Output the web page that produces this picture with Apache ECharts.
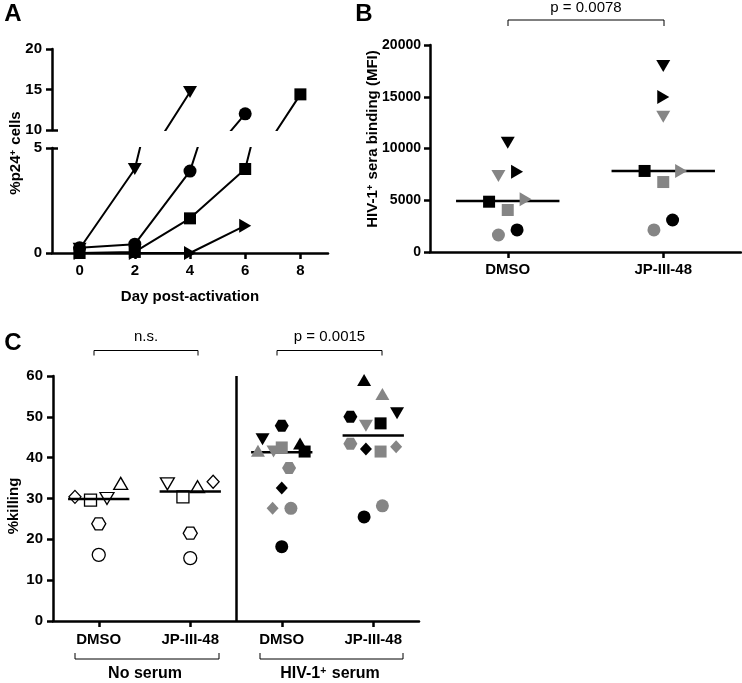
<!DOCTYPE html>
<html>
<head>
<meta charset="utf-8">
<script src="https://cdn.jsdelivr.net/npm/echarts@6/dist/echarts.min.js"></script>
<style>
  html, body { margin: 0; padding: 0; background: #fff; }
  #chart { width: 742px; height: 683px; }
</style>
</head>
<body>
<div id="chart"></div>
<script>
// ---- panel A: %p24+ cells over days ----
const days = [0, 2, 4, 6, 8];
const p24Down = [0.2, 4.0, 14.7];
const p24Circle = [0.25, 0.42, 3.9, 12.0];
const p24Square = [0, 0.05, 1.65, 4.0, 14.4];
const p24Right = [0, 0, 0, 1.3];
const aLowerTicks = [0, 5];
const aUpperTicks = [10, 15, 20];

// ---- panel B: sera binding (MFI) ----
const bGroups = ['DMSO', 'JP-III-48'];
const bShapes = ['down', 'right', 'down', 'square', 'right', 'square', 'circle', 'circle'];
const bTones = ['black', 'black', 'grey', 'black', 'grey', 'grey', 'black', 'grey'];
const bDmso = [10560, 7760, 7340, 4860, 5090, 4060, 2130, 1640];
const bJp = [17970, 14980, 13070, 7830, 7830, 6760, 3090, 2130];
const bDmsoJitter = [0, 0.12, -0.12, -0.24, 0.23, 0, 0.12, -0.12];
const bJpJitter = [0, 0, 0, -0.24, 0.23, 0, 0.12, -0.12];
const bMedians = [4930, 7830];
const bPValue = 'p = 0.0078';

// ---- panel C: %killing ----
const cGroups = ['DMSO', 'JP-III-48', 'DMSO', 'JP-III-48'];
const cSets = ['No serum', 'HIV-1⁺ serum'];

const cNoDmsoShapes = ['diamond', 'square', 'down', 'up', 'hexagon', 'circle'];
const cNoDmso = [30.4, 29.6, 30.0, 33.7, 23.8, 16.2];
const cNoDmsoJitter = [-0.26, -0.09, 0.09, 0.24, 0, 0];

const cNoJpShapes = ['down', 'square', 'up', 'diamond', 'hexagon', 'circle'];
const cNoJp = [33.6, 30.4, 32.9, 34.1, 21.5, 15.4];
const cNoJpJitter = [-0.25, -0.08, 0.08, 0.25, 0, 0];

const cHivDmsoShapes = ['hexagon', 'down', 'up', 'down', 'square', 'up', 'square', 'hexagon', 'diamond', 'diamond', 'circle', 'circle'];
const cHivDmsoTones = ['black', 'black', 'grey', 'grey', 'grey', 'black', 'black', 'grey', 'black', 'grey', 'grey', 'black'];
const cHivDmso = [47.8, 44.5, 41.7, 41.5, 42.5, 43.5, 41.5, 37.5, 32.6, 27.6, 27.6, 18.2];
const cHivDmsoJitter = [0, -0.21, -0.26, -0.09, 0, 0.2, 0.25, 0.08, 0, -0.1, 0.1, 0];

const cHivJpShapes = ['up', 'up', 'down', 'hexagon', 'down', 'square', 'hexagon', 'diamond', 'square', 'diamond', 'circle', 'circle'];
const cHivJpTones = ['black', 'grey', 'black', 'black', 'grey', 'black', 'grey', 'black', 'grey', 'grey', 'grey', 'black'];
const cHivJp = [59.0, 55.6, 50.9, 50.0, 47.8, 48.4, 43.4, 42.1, 41.5, 42.7, 28.2, 25.5];
const cHivJpJitter = [-0.1, 0.1, 0.26, -0.25, -0.08, 0.08, -0.25, -0.08, 0.08, 0.25, 0.1, -0.1];

const cMedians = [29.9, 31.7, 41.3, 45.4];
const cPValues = ['n.s.', 'p = 0.0015'];

// ---- styles ----
const FONT = "'Liberation Sans', Arial, Helvetica, sans-serif";
const GREY = '#858585';
const AXIS_W = 2.5;

const SYMBOLS = {
  circle: ['circle', 13],
  square: ['rect', 12],
  up: ['triangle', [14, 12]],
  down: ['path://M0,0L10,0L5,9Z', [14, 12]],
  right: ['path://M0,0L9,5L0,10Z', [12, 14]],
  diamond: ['diamond', [12, 13]],
  hexagon: ['path://M0,4.33L2.5,0L7.5,0L10,4.33L7.5,8.66L2.5,8.66Z', [14, 12]]
};

const chart = echarts.init(document.getElementById('chart'));

function axisBase(extra) {
  return Object.assign({
    type: 'value',
    axisLine: { show: true, onZero: false, lineStyle: { color: '#000', width: AXIS_W } },
    axisTick: { show: true, inside: false, length: 6, lineStyle: { color: '#000', width: AXIS_W } },
    axisLabel: { color: '#000', fontFamily: FONT, fontWeight: 'bold', fontSize: 15, margin: 10, formatter: v => String(v) },
    splitLine: { show: false }
  }, extra);
}

function dots(values, jitter, shapes, tones, center, open) {
  return values.map((v, i) => {
    const s = SYMBOLS[shapes[i]];
    return {
      value: [center + jitter[i], v],
      symbol: s[0],
      symbolSize: s[1],
      itemStyle: open
        ? { color: 'rgba(0,0,0,0)', borderColor: '#000', borderWidth: 1.3, opacity: 1 }
        : { color: tones[i] === 'grey' ? GREY : '#000', opacity: 1 }
    };
  });
}

function scatter(data, gridIdx) {
  return {
    type: 'scatter', xAxisIndex: gridIdx, yAxisIndex: gridIdx,
    data: data, z: 3, silent: true,
    itemStyle: { opacity: 1 }
  };
}

function median(center, halfWidth, value, gridIdx) {
  return {
    type: 'line', xAxisIndex: gridIdx, yAxisIndex: gridIdx,
    data: [[center - halfWidth, value], [center + halfWidth, value]],
    symbol: 'none', z: 2, silent: true,
    lineStyle: { color: '#000', width: 2.5 }
  };
}

// panel A lines in both halves of the broken axis
const aSets = [
  { vals: p24Down, shape: 'down', size: [14, 12] },
  { vals: p24Circle, shape: 'circle', size: 13 },
  { vals: p24Square, shape: 'square', size: 12 },
  { vals: p24Right, shape: 'right', size: [12, 14] }
];
const aSeries = [];
[0, 1].forEach(g => {
  aSets.forEach(set => {
    aSeries.push({
      type: 'line', xAxisIndex: g, yAxisIndex: g,
      data: set.vals.map((v, i) => [days[i], v]),
      symbol: SYMBOLS[set.shape][0], symbolSize: set.size,
      showAllSymbol: true, clip: true, silent: true,
      itemStyle: { color: '#000', opacity: 1 },
      lineStyle: { color: '#000', width: 2 }
    });
  });
});

const bCenters = [1, 3];
const cCenters = [0.5, 1.5, 2.5, 3.5];

const series = aSeries.concat([
  median(bCenters[0], 0.665, bMedians[0], 2),
  median(bCenters[1], 0.665, bMedians[1], 2),
  scatter(dots(bDmso, bDmsoJitter, bShapes, bTones, bCenters[0], false), 2),
  scatter(dots(bJp, bJpJitter, bShapes, bTones, bCenters[1], false), 2),

  median(cCenters[0], 0.335, cMedians[0], 3),
  median(cCenters[1], 0.335, cMedians[1], 3),
  median(cCenters[2], 0.335, cMedians[2], 3),
  median(cCenters[3], 0.335, cMedians[3], 3),
  scatter(dots(cNoDmso, cNoDmsoJitter, cNoDmsoShapes, null, cCenters[0], true), 3),
  scatter(dots(cNoJp, cNoJpJitter, cNoJpShapes, null, cCenters[1], true), 3),
  scatter(dots(cHivDmso, cHivDmsoJitter, cHivDmsoShapes, cHivDmsoTones, cCenters[2], false), 3),
  Object.assign(scatter(dots(cHivJp, cHivJpJitter, cHivJpShapes, cHivJpTones, cCenters[3], false), 3), {
    markLine: {
      silent: true, symbol: 'none', label: { show: false },
      lineStyle: { color: '#000', width: AXIS_W, type: 'solid' },
      data: [{ xAxis: 2 }]
    }
  })
]);

function txt(text, x, y, size, weight, rot) {
  return {
    type: 'text', x: x, y: y, rotation: rot || 0, z: 10,
    style: {
      text: text, fill: '#000', fontFamily: FONT, fontSize: size,
      fontWeight: weight, align: 'center', verticalAlign: 'middle'
    }
  };
}
function supTxt(before, after, x, y, size, rot) {
  return {
    type: 'text', x: x, y: y, rotation: rot || 0, z: 10,
    style: {
      text: '{b|' + before + '}{s|+}{b|' + after + '}',
      align: 'center', verticalAlign: 'middle',
      rich: {
        b: { fill: '#000', fontFamily: FONT, fontSize: size, fontWeight: 'bold' },
        s: { fill: '#000', fontFamily: FONT, fontSize: size * 0.65, fontWeight: 'bold', verticalAlign: 'top', padding: [0, 1, 0, 0] }
      }
    }
  };
}
function bracket(x1, x2, yLine, yEnd) {
  return {
    type: 'polyline', z: 10,
    shape: { points: [[x1, yEnd], [x1, yLine], [x2, yLine], [x2, yEnd]] },
    style: { stroke: '#000', lineWidth: 1, fill: null }
  };
}
function capLine(x1, x2, y) {
  return {
    type: 'line', z: 10,
    shape: { x1: x1, y1: y, x2: x2, y2: y },
    style: { stroke: '#000', lineWidth: AXIS_W }
  };
}

const graphics = [
  txt('A', 13, 14, 24, 'bold'),
  txt('B', 364, 14, 24, 'bold'),
  txt('C', 13, 343, 24, 'bold'),
  supTxt('%p24', ' cells', 16, 153, 15, Math.PI / 2),
  supTxt('HIV-1', ' sera binding (MFI)', 373, 139, 15, Math.PI / 2),
  txt('%killing', 14, 506, 15, 'bold', Math.PI / 2),
  capLine(52, 58, 130.5),
  capLine(52, 58, 148.5),
  bracket(508, 664, 20, 26),
  txt(bPValue, 586, 8, 15, 'normal'),
  bracket(94, 198, 350.5, 355.5),
  txt(cPValues[0], 146, 337, 15, 'normal'),
  bracket(277, 382, 350.5, 355.5),
  txt(cPValues[1], 329.5, 337, 15, 'normal'),
  bracket(75, 219, 659, 653),
  bracket(260, 403, 659, 653),
  txt(cSets[0], 145, 674, 16, 'bold'),
  supTxt('HIV-1', ' serum', 330, 674, 16, 0)
];

chart.setOption({
  animation: false,
  backgroundColor: '#fff',
  grid: [
    { left: 52, top: 49, width: 276, height: 81 },
    { left: 52, top: 148, width: 276, height: 105 },
    { left: 430, top: 45, width: 311, height: 207 },
    { left: 53, top: 376, width: 366, height: 245 }
  ],
  xAxis: [
    axisBase({ gridIndex: 0, min: -1, max: 9, show: false }),
    axisBase({
      gridIndex: 1, min: -1, max: 9, interval: 1,
      name: 'Day post-activation', nameLocation: 'middle', nameGap: 36,
      nameTextStyle: { color: '#000', fontFamily: FONT, fontWeight: 'bold', fontSize: 15 },
      axisTick: { show: true, length: 6, customValues: days, lineStyle: { color: '#000', width: AXIS_W } },
      axisLabel: { color: '#000', fontFamily: FONT, fontWeight: 'bold', fontSize: 15, margin: 10, customValues: days }
    }),
    axisBase({
      gridIndex: 2, min: 0, max: 4, interval: 1,
      axisTick: { show: true, length: 6, customValues: bCenters, lineStyle: { color: '#000', width: AXIS_W } },
      axisLabel: {
        color: '#000', fontFamily: FONT, fontWeight: 'bold', fontSize: 15, margin: 10,
        customValues: bCenters, formatter: v => bGroups[bCenters.indexOf(v)] || ''
      }
    }),
    axisBase({
      gridIndex: 3, min: 0, max: 4, interval: 1,
      axisTick: { show: true, length: 6, customValues: cCenters, lineStyle: { color: '#000', width: AXIS_W } },
      axisLabel: {
        color: '#000', fontFamily: FONT, fontWeight: 'bold', fontSize: 15, margin: 11,
        customValues: cCenters, formatter: v => cGroups[cCenters.indexOf(v)] || ''
      }
    })
  ],
  yAxis: [
    axisBase({ gridIndex: 0, min: aUpperTicks[0], max: aUpperTicks[2], interval: 5 }),
    axisBase({ gridIndex: 1, min: aLowerTicks[0], max: aLowerTicks[1], interval: 5 }),
    axisBase({
      gridIndex: 2, min: 0, max: 20000, interval: 5000,
      axisLabel: { color: '#000', fontFamily: FONT, fontWeight: 'bold', fontSize: 14, margin: 9, formatter: v => String(v) }
    }),
    axisBase({ gridIndex: 3, min: 0, max: 60, interval: 10 })
  ],
  series: series,
  graphic: graphics
});
</script>
</body>
</html>
